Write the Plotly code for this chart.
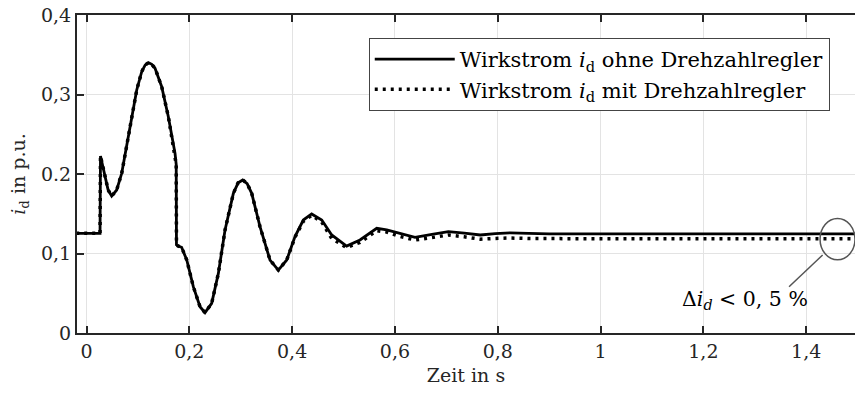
import plotly.graph_objects as go

# ---- data ----
t_ohne = [-0.02, 0.0263, 0.0272, 0.031, 0.036, 0.042, 0.049, 0.0587, 0.0685, 0.078, 0.088, 0.0977,
          0.1074, 0.114, 0.1203, 0.127, 0.1333, 0.1463, 0.1592, 0.1722, 0.1745, 0.1750, 0.178,
          0.185, 0.195, 0.2078, 0.2208, 0.2305, 0.2435, 0.2565, 0.2695, 0.2857, 0.295, 0.3039,
          0.3125, 0.3214, 0.3375, 0.357, 0.3732, 0.3895, 0.4056, 0.4218, 0.438, 0.4576, 0.477,
          0.506, 0.532, 0.5646, 0.584, 0.606, 0.639, 0.672, 0.704, 0.735, 0.766, 0.795, 0.824,
          0.86, 0.9, 1.0, 1.5]
id_ohne = [0.1254, 0.1254, 0.2226, 0.2120, 0.1966, 0.1800, 0.1723, 0.1799, 0.2009, 0.2344, 0.2721,
           0.3057, 0.3287, 0.3370, 0.3400, 0.3380, 0.3330, 0.3098, 0.2721, 0.2260, 0.2120, 0.1110,
           0.1095, 0.1078, 0.0918, 0.0583, 0.0331, 0.0256, 0.0373, 0.0750, 0.1296, 0.1757, 0.1890,
           0.1925, 0.1880, 0.1757, 0.1337, 0.0918, 0.0792, 0.0918, 0.1212, 0.1421, 0.1497, 0.1421,
           0.1233, 0.1094, 0.1170, 0.1317, 0.1296, 0.1260, 0.1203, 0.1240, 0.1274, 0.1255, 0.1233,
           0.1250, 0.1260, 0.1252, 0.1247, 0.1247, 0.1247]

t_mit = [-0.02, 0.0263, 0.0272, 0.031, 0.036, 0.042, 0.049, 0.0587, 0.0685, 0.078, 0.088, 0.0977,
         0.1074, 0.114, 0.1203, 0.127, 0.1333, 0.1463, 0.1592, 0.1722, 0.1745, 0.1750, 0.178,
         0.185, 0.195, 0.2078, 0.2208, 0.2305, 0.2435, 0.2565, 0.2695, 0.2857, 0.295, 0.3039,
         0.3125, 0.3214, 0.3375, 0.357, 0.3732, 0.3895, 0.4056, 0.4218, 0.438, 0.4576, 0.477,
         0.506, 0.532, 0.5646, 0.584, 0.606, 0.639, 0.672, 0.704, 0.735, 0.766, 0.795, 0.824,
         0.86, 0.9, 1.0, 1.5]
id_mit = [0.1254, 0.1254, 0.2226, 0.2120, 0.1966, 0.1800, 0.1723, 0.1799, 0.2009, 0.2344, 0.2721,
          0.3057, 0.3287, 0.3370, 0.3400, 0.3380, 0.3330, 0.3098, 0.2721, 0.2260, 0.2120, 0.1110,
          0.1095, 0.1078, 0.0918, 0.0583, 0.0331, 0.0256, 0.0373, 0.0750, 0.1296, 0.1757, 0.1890,
          0.1925, 0.1880, 0.1757, 0.1337, 0.0918, 0.0792, 0.0918, 0.1205, 0.1405, 0.1480, 0.1395,
          0.1190, 0.1075, 0.1140, 0.1287, 0.1270, 0.1220, 0.1170, 0.1200, 0.1233, 0.1210, 0.1180,
          0.1190, 0.1195, 0.1188, 0.1186, 0.1186, 0.1186]

x_ticks = [0, 0.2, 0.4, 0.6, 0.8, 1.0, 1.2, 1.4]
x_ticktext = ["0", "0,2", "0,4", "0,6", "0,8", "1", "1,2", "1,4"]
y_ticks = [0, 0.1, 0.2, 0.3, 0.4]
y_ticktext = ["0", "0,1", "0.2", "0,3", "0,4"]

name_ohne = "Wirkstrom <i>i</i><sub>d</sub> ohne Drehzahlregler"
name_mit = "Wirkstrom <i>i</i><sub>d</sub> mit Drehzahlregler"

SERIF = "DejaVu Serif"
AX = "#262626"

fig = go.Figure()
fig.add_trace(go.Scatter(x=t_ohne, y=id_ohne, mode="lines", name=name_ohne,
                         line=dict(color="black", width=2.8)))
fig.add_trace(go.Scatter(x=t_mit, y=id_mit, mode="lines", name=name_mit,
                         line=dict(color="black", width=3.5, dash="3px,5px")))

# annotation ellipse + pointer line
fig.add_shape(type="circle", xref="x", yref="y", x0=1.427, x1=1.495, y0=0.092, y1=0.144,
              line=dict(color="#555555", width=1.5))
fig.add_shape(type="line", xref="x", yref="y", x0=1.3667, y0=0.0582, x1=1.432, y1=0.0981,
              line=dict(color="#555555", width=1.5))
fig.add_annotation(x=1.281, y=0.0415, xref="x", yref="y", showarrow=False,
                   text="Δ<i>i<sub>d</sub></i> &lt; 0, 5 %",
                   font=dict(family=SERIF, size=20.5, color="black"))

fig.update_layout(
    width=855, height=400,
    margin=dict(l=77, r=0, t=15, b=67),
    paper_bgcolor="white", plot_bgcolor="white",
    font=dict(family=SERIF, size=19, color="#262626"),
    showlegend=True,
    legend=dict(x=0.375, y=0.928, xanchor="left", yanchor="top",
                bgcolor="white", bordercolor="#444444", borderwidth=1,
                font=dict(family=SERIF, size=21, color="black"),
                itemwidth=80, tracegroupgap=0),
    xaxis=dict(range=[-0.0185, 1.495], tickvals=x_ticks, ticktext=x_ticktext,
               showgrid=True, gridcolor="#e3e3e3", gridwidth=1, zeroline=False,
               showline=True, linecolor=AX, linewidth=2, mirror="ticks",
               ticks="inside", ticklen=7, tickwidth=2, tickcolor=AX,
               title=dict(text="Zeit in s", font=dict(family=SERIF, size=19), standoff=8)),
    yaxis=dict(range=[0, 0.4], tickvals=y_ticks, ticktext=y_ticktext,
               showgrid=True, gridcolor="#e3e3e3", gridwidth=1, zeroline=False,
               showline=True, linecolor=AX, linewidth=2, mirror=False,
               ticks="inside", ticklen=7, tickwidth=2, tickcolor=AX,
               title=dict(text="<i>i</i><sub>d</sub> in p.u.", font=dict(family=SERIF, size=19), standoff=10)),
)

fig.write_html("out.html")
